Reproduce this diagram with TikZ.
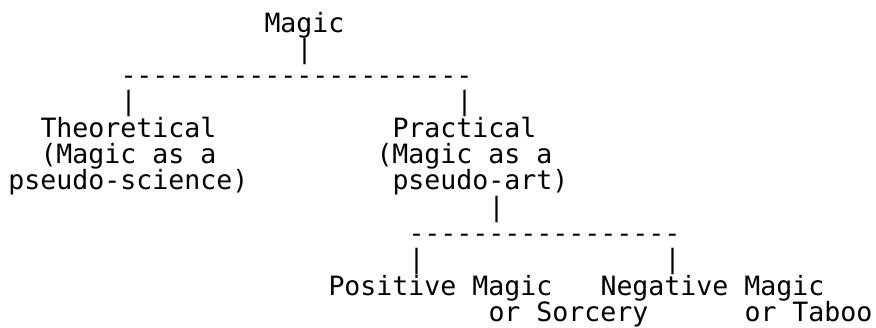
\documentclass[tikz,border=0pt]{standalone}
\usepackage{fontspec}
\setmonofont{DejaVu Sans Mono}
\begin{document}
\begin{tikzpicture}[x=16pt,y=-26.3pt,
  ascii/.style={anchor=base west,inner sep=0pt,outer sep=0pt,
    font=\ttfamily\fontsize{26.57}{26.3}\selectfont,text=black}]
\fill[white] (0pt,0pt) rectangle (876pt,-327pt);
\useasboundingbox (0pt,0pt) rectangle (876pt,-327pt);
\begin{scope}[shift={(8.5pt,-5.7pt)}]
% row 1-4: root
\node[ascii] (magic) at (16,1) {Magic};
\node[ascii] (v1) at (18,2) {|};
\node[ascii] (h1) at (7,3) {----------------------};
\node[ascii] (v2) at (7,4) {|};
\node[ascii] (v3) at (28,4) {|};
% rows 5-7: two branches
\node[ascii] (theo1) at (2,5) {Theoretical};
\node[ascii] (theo2) at (2,6) {(Magic as a};
\node[ascii] (theo3) at (0,7) {pseudo-science)};
\node[ascii] (prac1) at (24,5) {Practical};
\node[ascii] (prac2) at (23,6) {(Magic as a};
\node[ascii] (prac3) at (24,7) {pseudo-art)};
% rows 8-10
\node[ascii] (v4) at (30,8) {|};
\node[ascii] (h2) at (25,9) {-----------------};
\node[ascii] (v5) at (25,10) {|};
\node[ascii] (v6) at (41,10) {|};
% rows 11-12
\node[ascii] (pos1) at (20,11) {Positive Magic};
\node[ascii] (pos2) at (30,12) {or Sorcery};
\node[ascii] (neg1) at (37,11) {Negative Magic};
\node[ascii] (neg2) at (46,12) {or Taboo};
\end{scope}
\end{tikzpicture}
\end{document}
